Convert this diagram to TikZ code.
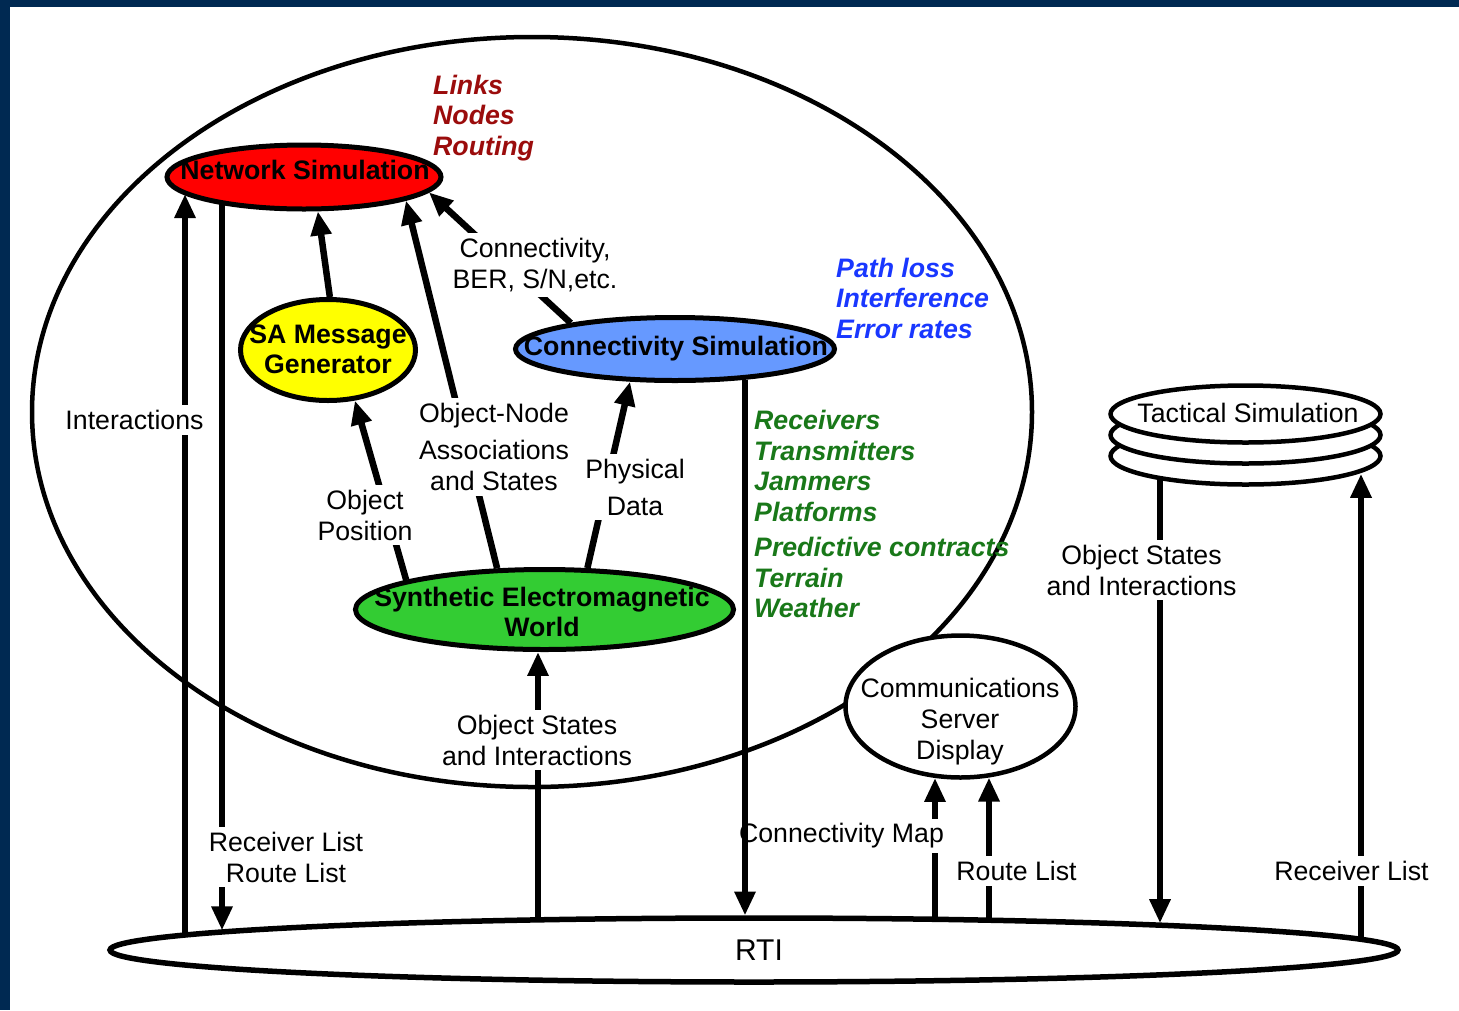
\documentclass[tikz,border=0pt]{standalone}
\usepackage{fontspec}
\setmainfont{Liberation Sans}
\usetikzlibrary{shapes.geometric,arrows.meta}
\definecolor{navy}{RGB}{0,41,82}
\definecolor{netred}{RGB}{255,0,0}
\definecolor{sayellow}{RGB}{255,255,0}
\definecolor{connblue}{RGB}{102,153,255}
\definecolor{sewgreen}{RGB}{51,204,51}
\definecolor{txtred}{RGB}{155,12,12}
\definecolor{txtblue}{RGB}{25,55,255}
\definecolor{txtgreen}{RGB}{25,120,25}
\begin{document}
\begin{tikzpicture}[x=1pt,y=-1pt,
  oval/.style={ellipse,draw=black,line width=5pt,inner sep=0pt},
  lbl/.style={font=\fontsize{26.7}{31}\selectfont,align=center,fill=white,inner xsep=2pt,inner ysep=5pt},
  plain/.style={font=\fontsize{26.7}{31}\selectfont,align=center,inner sep=0pt},
  boldlbl/.style={font=\fontsize{26.7}{30}\selectfont\bfseries,align=center,inner sep=0pt},
  note/.style={font=\fontsize{26.7}{30.5}\selectfont\bfseries\itshape,align=left,inner sep=0pt,anchor=west},
  conn/.style={line width=6.5pt,-{Triangle[length=24pt,width=20pt]}}
]
\useasboundingbox (0,0) rectangle (1459,1010);
\fill[white] (0,0) rectangle (1459,1010);
\fill[navy] (0,0) rectangle (10,1010);
\fill[navy] (0,0) rectangle (1459,7);

% outer domain ellipse
\node[ellipse,draw=black,line width=4.5pt,inner sep=0pt,minimum width=1000pt,minimum height=750pt] (domain) at (532,412) {};

% main ellipses
\node[oval,fill=netred,minimum width=274pt,minimum height=64pt] (net) at (304,177) {};
\node[oval,fill=sayellow,minimum width=175pt,minimum height=101pt] (sa) at (328,350) {};
\node[oval,fill=connblue,minimum width=319pt,minimum height=63pt] (conn) at (675,349) {};
\node[oval,fill=sewgreen,minimum width=378pt,minimum height=80pt] (sew) at (544.5,609.5) {};
\node[oval,fill=white,line width=4.5pt,minimum width=230pt,minimum height=142pt] (comm) at (960.5,706.5) {};
\node[oval,fill=white,line width=4.5pt,minimum width=270pt,minimum height=57pt] (tac3) at (1245.5,456) {};
\node[oval,fill=white,line width=4.5pt,minimum width=270pt,minimum height=57pt] (tac2) at (1245.5,435) {};
\node[oval,fill=white,line width=4.5pt,minimum width=270pt,minimum height=57pt] (tac1) at (1245.5,414) {};
\node[oval,fill=white,line width=5.5pt,minimum width=1288pt,minimum height=64pt] (rti) at (754,950) {};

% attachment points on the RTI border
\coordinate (r185) at (185,933.6);
\coordinate (r222) at (222,930.4);
\coordinate (r538) at (538,917.5);
\coordinate (r745) at (745,915.5);
\coordinate (r935) at (935,916.9);
\coordinate (r989) at (989,917.9);
\coordinate (r1160) at (1160,923.2);
\coordinate (r1361) at (1361,938.3);

% connectors
\draw[conn] (r185) -- (r185 |- net.188.6);
\draw[conn] (r222 |- net.198.8) -- (r222);
\draw[conn] (sa.88) -- (net.292.1);
\draw[conn] (sew.139.1) -- (net.347.5);
\draw[conn] (conn.166.6) -- (net.353.7);
\draw[conn] (sew.168.6) -- (sa.298.1);
\draw[conn] (sew.44.2) -- (conn.216);
\draw[conn] (r538) -- (r538 |- sew.261.3);
\draw[conn] (r935) -- (r935 |- comm.250.4);
\draw[conn] (r989) -- (r989 |- comm.292.5);
\draw[conn] (r1160 |- tac3.195.9) -- (r1160);
\draw[conn] (r1361) -- (r1361 |- tac3.351.9);

% texts in ellipses
\node[boldlbl] (nettext) at (305,170) {Network Simulation};
\node[boldlbl] (satext) at (328,349) {SA Message\\Generator};
\node[boldlbl] (conntext) at (676,349) {Connectivity Simulation};
\node[boldlbl] (sewtext) at (542,612) {Synthetic Electromagnetic\\World};
\node[plain] (commtext) at (960,722) {Communications\\Server\\Display};
\node[plain] (tactext) at (1248,413) {Tactical Simulation};
\node[plain,font=\fontsize{30}{34}\selectfont] (rtitext) at (759,950) {RTI};

% connector labels
\node[lbl] (l-inter) at (134.5,420) {Interactions};
\node[lbl] (l-rxroute) at (286,857) {Receiver List\\Route List};
\node[lbl] (l-connber) at (535,265) {Connectivity,\\BER, S/N,etc.};
\node[lbl] (l-objnode) at (494,447) {Object-Node\\[6pt]Associations\\and States};
\node[lbl] (l-objpos) at (365,515) {Object\\Position};
\node[lbl] (l-phys) at (635,487) {Physical\\[6pt]Data};
\node[lbl] (l-objstates) at (537,740) {Object States\\and Interactions};
\node[lbl] (l-connmap) at (841.5,836) {Connectivity Map};
\node[lbl] (l-route) at (1016.5,871) {Route List};
\node[lbl] (l-tacstates) at (1141.5,570) {Object States\\and Interactions};
\node[lbl] (l-rx) at (1351.5,871) {Receiver List};

\draw[conn] (r745 |- conn.336.3) -- (r745);

% coloured notes
\node[note,text=txtred] (n-links) at (433,118) {Links\\Nodes\\Routing};
\node[note,text=txtblue] (n-path) at (836,298) {Path loss\\Interference\\Error rates};
\node[note,text=txtgreen] (n-recv) at (754,514) {Receivers\\Transmitters\\Jammers\\Platforms\\[5pt]Predictive contracts\\Terrain\\Weather};
\end{tikzpicture}
\end{document}
